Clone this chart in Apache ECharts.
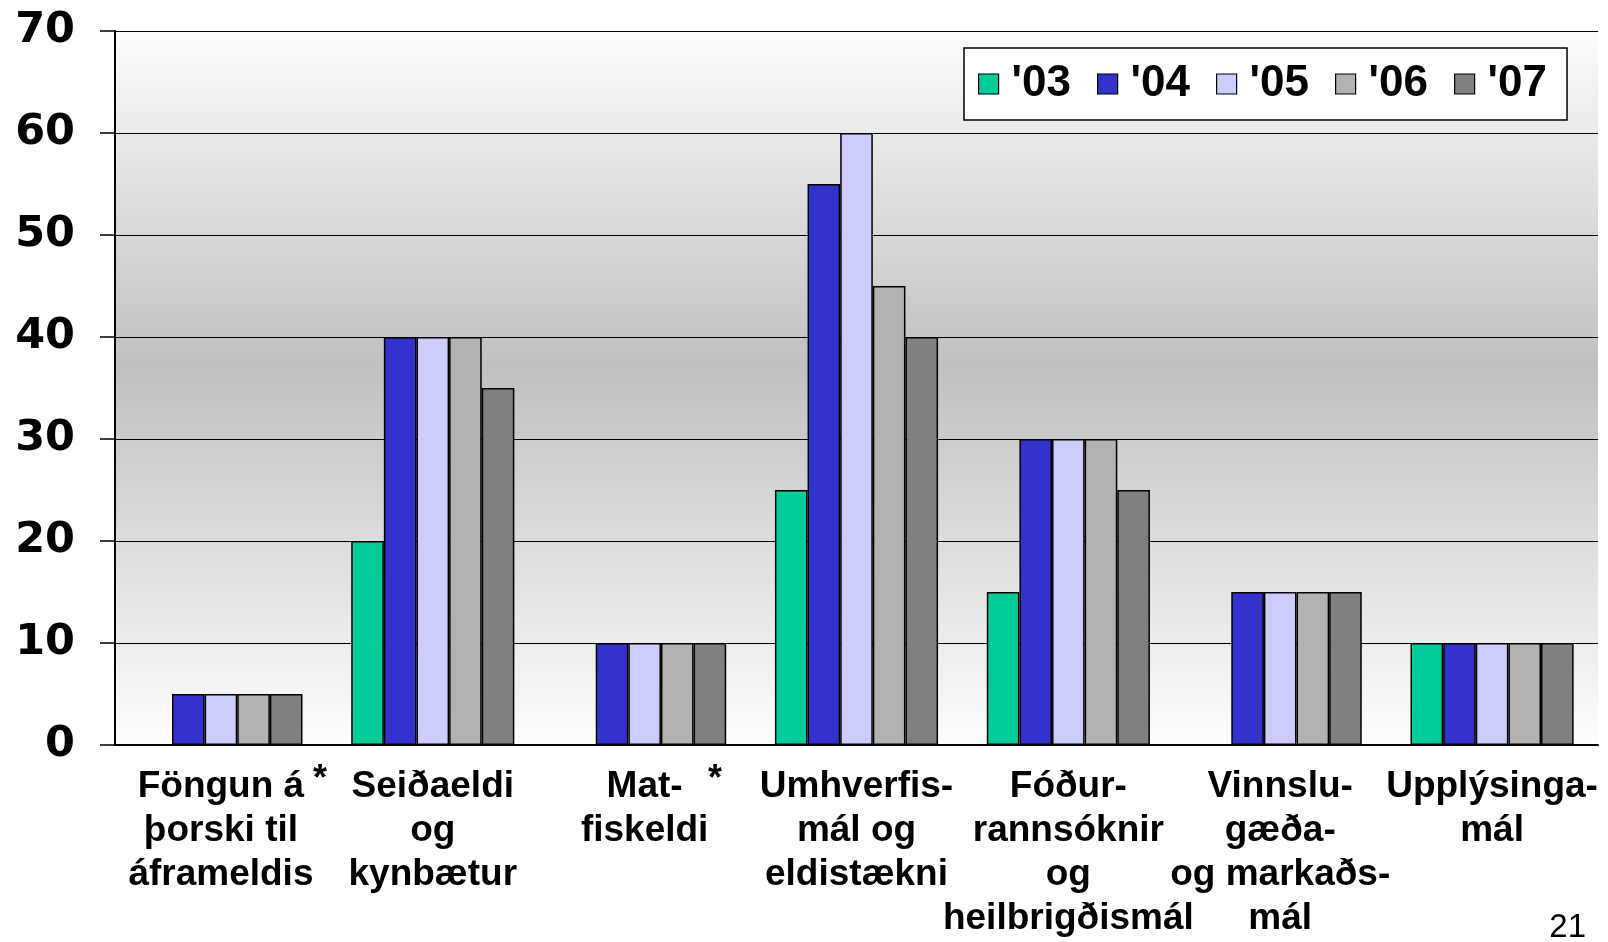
<!DOCTYPE html>
<html>
<head>
<meta charset="utf-8">
<script src="https://cdn.jsdelivr.net/npm/echarts@6/dist/echarts.min.js"></script>
<style>
  html, body { margin: 0; padding: 0; background: #fff; }
  #chart { width: 1608px; height: 942px; }
</style>
</head>
<body>
<div id="chart"></div>
<script>
// flokkar (x-ás)
var categories = [
  'Föngun á\nþorski til\náframeldis',
  'Seiðaeldi\nog\nkynbætur',
  'Mat-\nfiskeldi',
  'Umhverfis-\nmál og\neldistækni',
  'Fóður-\nrannsóknir\nog\nheilbrigðismál',
  'Vinnslu-\ngæða-\nog markaðs-\nmál',
  'Upplýsinga-\nmál'
];
var years = ["'03", "'04", "'05", "'06", "'07"];
var colors = ['#00CC99', '#3333CC', '#CCCCFF', '#B2B2B2', '#808080'];
// gildi eftir árum
var v03 = [null, 20, null, 25, 15, null, 10];
var v04 = [5, 40, 10, 55, 30, 15, 10];
var v05 = [5, 40, 10, 60, 30, 15, 10];
var v06 = [5, 40, 10, 45, 30, 15, 10];
var v07 = [5, 35, 10, 40, 25, 15, 10];
var yTicks = [0, 10, 20, 30, 40, 50, 60, 70];

var chart = echarts.init(document.getElementById('chart'));
var allVals = [v03, v04, v05, v06, v07];

var series = years.map(function (y, i) {
  return {
    name: y,
    type: 'bar',
    data: allVals[i],
    barGap: '0%',
    barCategoryGap: '23%',
    itemStyle: { color: colors[i], borderColor: '#000', borderWidth: 1.5 }
  };
});

var option = {
  animation: false,
  backgroundColor: '#fff',
  grid: {
    left: 115, right: 10, top: 31, bottom: 197,
    show: true, borderWidth: 0,
    backgroundColor: new echarts.graphic.LinearGradient(0, 0, 0, 1, [
      { offset: 0, color: '#fcfcfc' },
      { offset: 0.47, color: '#c0c0c0' },
      { offset: 1, color: '#fdfdfd' }
    ])
  },
  legend: {
    data: years,
    icon: 'rect',
    left: 964, top: 48,
    padding: [14, 20, 14, 14],
    itemWidth: 20, itemHeight: 20, itemGap: 26,
    backgroundColor: '#fff',
    borderColor: '#000', borderWidth: 1.5,
    itemStyle: { borderColor: '#000', borderWidth: 1.2 },
    textStyle: {
      fontFamily: 'Liberation Sans', fontWeight: 'bold', fontSize: 44, color: '#000',
      padding: [0, 0, 0, 8]
    }
  },
  xAxis: {
    type: 'category',
    data: categories,
    axisLine: { lineStyle: { color: '#000', width: 2 } },
    axisTick: { length: 13, lineStyle: { color: '#000', width: 1.5 } },
    axisLabel: {
      interval: 0, margin: 20, color: '#000',
      fontFamily: 'Liberation Sans', fontWeight: 'bold', fontSize: 37, lineHeight: 44
    }
  },
  yAxis: {
    type: 'value',
    min: 0, max: 70, interval: 10,
    axisLine: { show: true, lineStyle: { color: '#000', width: 2 } },
    axisTick: { show: true, length: 15, lineStyle: { color: '#000', width: 1.5 } },
    splitLine: { lineStyle: { color: '#000', width: 1.2 } },
    axisLabel: {
      margin: 40, color: '#000',
      fontFamily: 'DejaVu Sans', fontWeight: 'bold', fontSize: 43,
      formatter: function (v) { return yTicks.indexOf(v) >= 0 ? String(v) : ''; }
    }
  },
  graphic: [
    { type: 'text', left: 313, top: 762, style: { text: '*', font: 'bold 36px Liberation Sans', fill: '#000' } },
    { type: 'text', left: 708, top: 762, style: { text: '*', font: 'bold 36px Liberation Sans', fill: '#000' } },
    { type: 'text', right: 22, bottom: -2, style: { text: '21', font: '33px Liberation Sans', fill: '#000' } }
  ],
  series: series
};
chart.setOption(option);
</script>
</body>
</html>
